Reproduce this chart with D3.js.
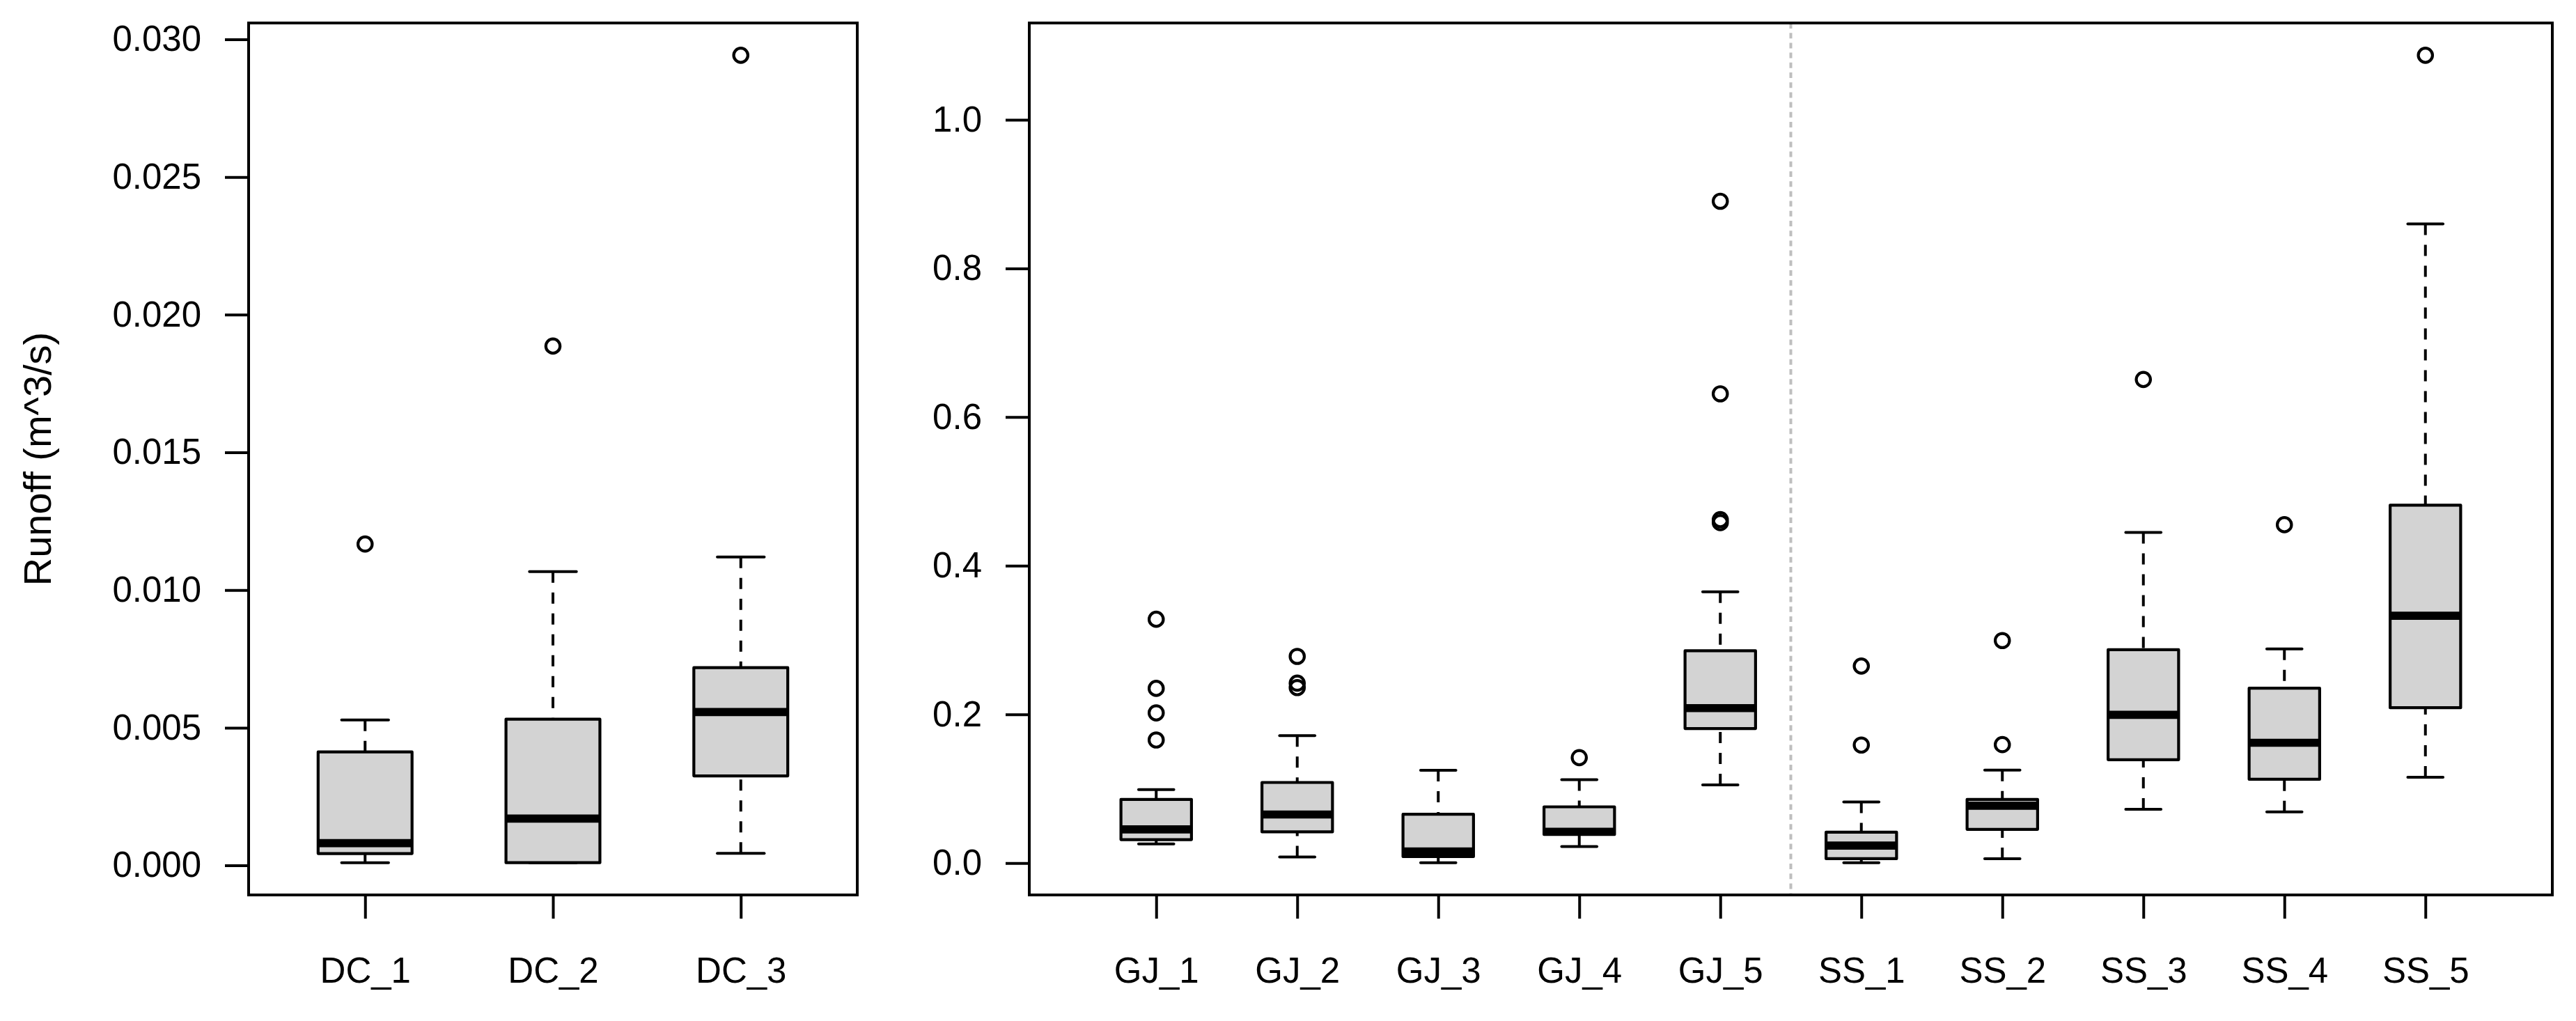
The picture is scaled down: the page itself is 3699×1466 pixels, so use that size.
<!DOCTYPE html>
<html>
<head>
<meta charset="utf-8">
<script src="https://cdn.jsdelivr.net/npm/d3@7"></script>
<style>
    body { margin: 0; background: #fff; }
    svg { display: block; font-family: "Liberation Sans", Arial, Helvetica, sans-serif; }
    .axis text { font-size: 51px; fill: #000; }
    .axis line { stroke: #000; stroke-width: 4; }
</style>
</head>
<body>
<div id="chart"></div>
<script>
// Left panel: DC sites
const dcGroups = ["DC_1", "DC_2", "DC_3"];
const dcLow = [0.0001, 0.0001, 0.00044];
const dcQ1 = [0.00043, 0.0001, 0.00325];
const dcMedian = [0.00081, 0.0017, 0.00557];
const dcQ3 = [0.00412, 0.00531, 0.00718];
const dcHigh = [0.00528, 0.01067, 0.0112];
const dcOutliers = [[0.01167], [0.01886], [0.02942]];
const dcTicks = [0, 0.005, 0.010, 0.015, 0.020, 0.025, 0.030];

// Right panel: GJ and SS sites
const siteGroups = ["GJ_1", "GJ_2", "GJ_3", "GJ_4", "GJ_5", "SS_1", "SS_2", "SS_3", "SS_4", "SS_5"];
const siteLow = [0.0256, 0.0081, 0.0005, 0.0222, 0.105, 0.0005, 0.0058, 0.0724, 0.0689, 0.1153];
const siteQ1 = [0.0315, 0.0419, 0.0087, 0.0384, 0.1809, 0.0058, 0.0453, 0.139, 0.1127, 0.209];
const siteMedian = [0.0453, 0.0653, 0.0155, 0.0421, 0.2084, 0.0234, 0.0772, 0.1994, 0.1618, 0.3326];
const siteQ3 = [0.0856, 0.1084, 0.0656, 0.0756, 0.2856, 0.0415, 0.0856, 0.287, 0.2353, 0.4815];
const siteHigh = [0.0987, 0.1715, 0.1247, 0.1122, 0.365, 0.0821, 0.125, 0.4447, 0.288, 0.8599];
const siteOutliers = [
    [0.328, 0.235, 0.202, 0.1655],
    [0.278, 0.242, 0.236],
    [],
    [0.1418],
    [0.8904, 0.6313, 0.462, 0.458],
    [0.265, 0.1587],
    [0.2993, 0.1593],
    [0.6506],
    [0.4552],
    [1.0868]
];
const siteTicks = [0, 0.2, 0.4, 0.6, 0.8, 1.0];

const W = 3699, H = 1466;
const plotTop = 33, plotBottom = 1285;

const svg = d3.select("#chart")
    .append("svg")
    .attr("width", W)
    .attr("height", H);

svg.append("rect")
    .attr("width", W)
    .attr("height", H)
    .attr("fill", "#fff");

function drawPanel(p) {
    const n = p.groups.length;
    // R style limits: 4% padding on both axes
    const x = d3.scaleLinear()
        .domain([0.5 - 0.04 * n, n + 0.5 + 0.04 * n])
        .range([p.left, p.right]);

    const allVals = p.low.concat(p.high, p.outliers.flat());
    const yMin = d3.min(allVals), yMax = d3.max(allVals);
    const pad = (yMax - yMin) * 0.04;
    const y = d3.scaleLinear()
        .domain([yMin - pad, yMax + pad])
        .range([plotBottom, plotTop]);

    const g = svg.append("g");

    // Y axis
    g.append("g")
        .attr("class", "axis")
        .attr("transform", `translate(${p.left},0)`)
        .call(d3.axisLeft(y)
            .tickValues(p.ticks)
            .tickSize(34)
            .tickPadding(34)
            .tickFormat(d3.format(p.fmt)))
        .call(a => a.select(".domain").remove());

    // X axis
    g.append("g")
        .attr("class", "axis")
        .attr("transform", `translate(0,${plotBottom})`)
        .call(d3.axisBottom(x)
            .tickValues(d3.range(1, n + 1))
            .tickSize(34)
            .tickPadding(56)
            .tickFormat(i => p.groups[i - 1]))
        .call(a => a.select(".domain").remove());

    if (p.divider) {
        g.append("line")
            .attr("x1", x(p.divider)).attr("x2", x(p.divider))
            .attr("y1", plotTop).attr("y2", plotBottom)
            .attr("stroke", "#bebebe")
            .attr("stroke-width", 4)
            .attr("stroke-dasharray", "8,6.2");
    }

    const half = 0.25, staple = 0.125;

    p.groups.forEach((name, i) => {
        const c = i + 1;
        const cx = x(c);

        // whiskers, drawn from the end toward the box
        [[p.high[i], p.q3[i]], [p.low[i], p.q1[i]]].forEach(([a, b]) => {
            g.append("line")
                .attr("x1", cx).attr("x2", cx)
                .attr("y1", y(a)).attr("y2", y(b))
                .attr("stroke", "#000")
                .attr("stroke-width", 4)
                .attr("stroke-dasharray", "16,14");
            g.append("line")
                .attr("x1", x(c - staple)).attr("x2", x(c + staple))
                .attr("y1", y(a)).attr("y2", y(a))
                .attr("stroke", "#000")
                .attr("stroke-width", 4)
                .attr("stroke-linecap", "round");
        });

        // box
        g.append("rect")
            .attr("x", x(c - half))
            .attr("y", y(p.q3[i]))
            .attr("width", x(c + half) - x(c - half))
            .attr("height", y(p.q1[i]) - y(p.q3[i]))
            .attr("fill", "#d3d3d3")
            .attr("stroke", "#000")
            .attr("stroke-width", 4.2)
            .attr("stroke-linejoin", "round");

        // median
        g.append("line")
            .attr("x1", x(c - half)).attr("x2", x(c + half))
            .attr("y1", y(p.median[i])).attr("y2", y(p.median[i]))
            .attr("stroke", "#000")
            .attr("stroke-width", 11.7);

        // outliers
        g.selectAll(null)
            .data(p.outliers[i])
            .enter()
            .append("circle")
            .attr("cx", cx)
            .attr("cy", d => y(d))
            .attr("r", 10.2)
            .attr("fill", "none")
            .attr("stroke", "#000")
            .attr("stroke-width", 4.2);
    });

    // frame
    g.append("rect")
        .attr("x", p.left)
        .attr("y", plotTop)
        .attr("width", p.right - p.left)
        .attr("height", plotBottom - plotTop)
        .attr("fill", "none")
        .attr("stroke", "#000")
        .attr("stroke-width", 4);
}

drawPanel({
    left: 357, right: 1231,
    groups: dcGroups, low: dcLow, q1: dcQ1, median: dcMedian, q3: dcQ3, high: dcHigh,
    outliers: dcOutliers, ticks: dcTicks, fmt: ".3f"
});

drawPanel({
    left: 1478, right: 3665,
    groups: siteGroups, low: siteLow, q1: siteQ1, median: siteMedian, q3: siteQ3, high: siteHigh,
    outliers: siteOutliers, ticks: siteTicks, fmt: ".1f", divider: 5.5
});

// Y axis title
svg.append("text")
    .attr("transform", `translate(73,${(plotTop + plotBottom) / 2}) rotate(-90)`)
    .attr("text-anchor", "middle")
    .style("font-size", "56px")
    .text("Runoff (m^3/s)");
</script>
</body>
</html>
